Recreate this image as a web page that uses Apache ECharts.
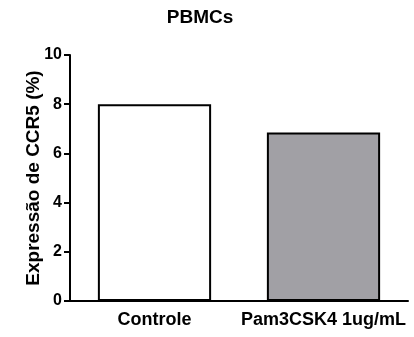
<!DOCTYPE html>
<html>
<head>
<meta charset="utf-8">
<script src="https://cdn.jsdelivr.net/npm/echarts@6/dist/echarts.min.js"></script>
<style>
  html, body { margin: 0; padding: 0; background: #fff; }
  #chart { width: 414px; height: 337px; }
</style>
</head>
<body>
<div id="chart"></div>
<script>
// values
const categories = ['Controle', 'Pam3CSK4 1ug/mL'];
const values = [8.0, 6.85];
const barColors = ['#ffffff', '#a1a0a5'];
const yTicks = [0, 2, 4, 6, 8, 10];

const FONT = '"Liberation Sans", Arial, Helvetica, sans-serif';

const chart = echarts.init(document.getElementById('chart'));

chart.setOption({
    animation: false,
    title: {
        text: 'PBMCs',
        left: 195,
        top: 3,
        textAlign: 'center',
        textStyle: { fontFamily: FONT, fontWeight: 'bold', fontSize: 19, color: '#000' },
    },
    grid: { left: 70, right: 6, top: 55, bottom: 36, containLabel: false },
    xAxis: {
        type: 'category',
        data: categories,
        axisLine: { lineStyle: { color: '#000', width: 2 } },
        axisTick: { alignWithLabel: true, length: 6, lineStyle: { color: '#000', width: 2 } },
        axisLabel: {
            interval: 0, hideOverlap: false,
            fontFamily: FONT, fontWeight: 'bold', fontSize: 18, color: '#000', margin: 10,
        },
    },
    yAxis: {
        type: 'value',
        min: yTicks[0],
        max: yTicks[yTicks.length - 1],
        interval: 2,
        name: 'Expressão de CCR5 (%)',
        nameLocation: 'middle',
        nameGap: 27,
        nameMoveOverlap: false,
        nameTextStyle: { fontFamily: FONT, fontWeight: 'bold', fontSize: 19, color: '#000' },
        axisLine: { show: true, lineStyle: { color: '#000', width: 2 } },
        axisTick: { show: true, length: 6, lineStyle: { color: '#000', width: 2 } },
        axisLabel: { fontFamily: FONT, fontWeight: 'bold', fontSize: 16, color: '#000', margin: 8 },
        splitLine: { show: false },
    },
    series: [{
        type: 'bar',
        barWidth: '67%',
        data: values.map((v, i) => ({
            value: v,
            itemStyle: { color: barColors[i], borderColor: '#000', borderWidth: 2 },
        })),
    }],
});
</script>
</body>
</html>
